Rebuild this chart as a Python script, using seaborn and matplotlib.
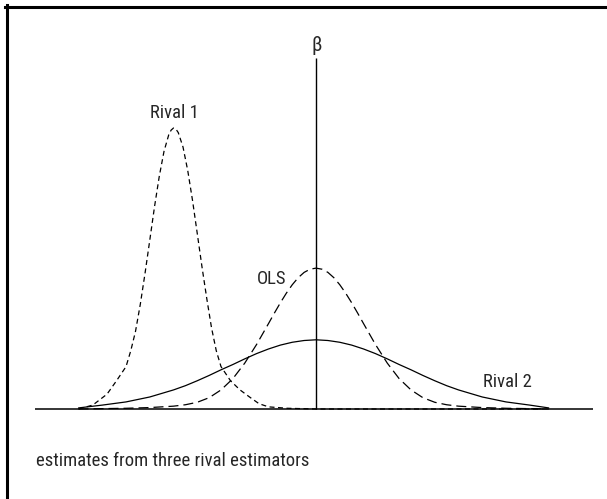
import numpy as np
import pandas as pd
import matplotlib
matplotlib.use("Agg")
import matplotlib.pyplot as plt
from matplotlib.lines import Line2D
from matplotlib import font_manager as fm
import seaborn as sns

# ---- data (x in units of OLS std. dev., y = density height) ----
rival1_x = [-5.0, -4.7, -4.4, -4.2, -4.0, -3.9, -3.8, -3.7, -3.6, -3.5, -3.4, -3.3, -3.2, -3.1,
            -3.05, -3.0, -2.95, -2.9, -2.8, -2.7, -2.6, -2.5, -2.4, -2.3, -2.2, -2.1, -2.0,
            -1.8, -1.6, -1.4, -1.2, -1.0, -0.6, 0.0, 1.0, 2.0, 3.0, 4.0, 4.9]
rival1_y = [0.0, 0.011, 0.042, 0.08, 0.12, 0.165, 0.22, 0.296, 0.384, 0.478, 0.573, 0.659, 0.730, 0.777,
            0.790, 0.796, 0.793, 0.783, 0.742, 0.675, 0.591, 0.497, 0.402, 0.313, 0.23, 0.165, 0.12,
            0.08, 0.054, 0.034, 0.015, 0.006, 0.002, 0.0, 0.0, 0.0, 0.0, 0.0, 0.0]

ols_x = [-5.0, -4.5, -4.0, -3.5, -3.0, -2.75, -2.5, -2.25, -2.0, -1.75, -1.5, -1.25, -1.0,
         -0.875, -0.75, -0.625, -0.5, -0.375, -0.25, -0.125, 0.0, 0.125, 0.25, 0.375, 0.5,
         0.625, 0.75, 0.875, 1.0, 1.25, 1.5, 1.75, 2.0, 2.25, 2.5,
         2.75, 3.0, 3.5, 4.0, 4.5, 4.9]
ols_y = [0.0, 0.001, 0.002, 0.004, 0.008, 0.012, 0.019, 0.032, 0.054, 0.086, 0.130, 0.183, 0.242,
         0.272, 0.301, 0.328, 0.352, 0.372, 0.387, 0.396, 0.399, 0.396, 0.387, 0.372, 0.352,
         0.328, 0.301, 0.272, 0.242, 0.183, 0.130, 0.086, 0.054, 0.032, 0.019,
         0.012, 0.008, 0.004, 0.002, 0.001, 0.0]

rival2_x = [-5.0, -4.5, -4.0, -3.5, -3.0, -2.75, -2.5, -2.25, -2.0, -1.75, -1.5, -1.25, -1.0,
            -0.75, -0.5, -0.25, 0.0, 0.25, 0.5, 0.75, 1.0, 1.25, 1.5, 1.75, 2.0, 2.25, 2.5,
            2.75, 3.0, 3.5, 4.0, 4.5, 4.9]
rival2_y = [0.003, 0.011, 0.020, 0.034, 0.054, 0.066, 0.080, 0.095, 0.111, 0.126, 0.142, 0.157, 0.170,
            0.181, 0.189, 0.194, 0.196, 0.194, 0.189, 0.181, 0.170, 0.157, 0.142, 0.126, 0.111, 0.095, 0.080,
            0.066, 0.054, 0.034, 0.020, 0.011, 0.003]

series_names = ["Rival 1", "OLS", "Rival 2"]
axis_x_range = [-5.92, 5.83]
beta_axis_top = 0.994
caption = "estimates from three rival estimators"

df = pd.concat([
    pd.DataFrame({"x": rival1_x, "y": rival1_y, "series": series_names[0]}),
    pd.DataFrame({"x": ols_x, "y": ols_y, "series": series_names[1]}),
    pd.DataFrame({"x": rival2_x, "y": rival2_y, "series": series_names[2]}),
], ignore_index=True)

sns.set_theme(style="white")

available = {f.name for f in fm.fontManager.ttflist}
fs = 12.3
family = ["Liberation Sans", "DejaVu Sans"]
for cand, size in [("Liberation Sans Narrow", 14), ("Arial Narrow", 14), ("Roboto Condensed", 13.4)]:
    if cand in available:
        family = [cand, "DejaVu Sans"]
        fs = size
        break
plt.rcParams["font.family"] = family
plt.rcParams["font.weight"] = "normal"

fig = plt.figure(figsize=(6.07, 4.99), dpi=100)
ax = fig.add_axes([0, 0, 1, 1])

lw = 0.9
sns.lineplot(data=df, x="x", y="y", style="series", hue="series",
             palette={n: "black" for n in series_names},
             dashes={"Rival 1": (4, 2.8), "OLS": (8, 4), "Rival 2": ""},
             estimator=None, sort=False, legend=False, linewidth=lw, ax=ax)

ax.hlines(0, axis_x_range[0], axis_x_range[1], color="black", linewidth=1.1)
ax.vlines(0, 0, beta_axis_top, color="black", linewidth=1.0)

ax.set_xlim(-6.653, 6.126)
ax.set_ylim(-0.255, 1.1586)
ax.axis("off")

ax.text(-2.99, 0.839, "Rival 1", ha="center", va="center", fontsize=fs)
ax.text(-0.93, 0.368, "OLS", ha="center", va="center", fontsize=fs)
ax.text(4.04, 0.0765, "Rival 2", ha="center", va="center", fontsize=fs)
ax.text(0.02, 1.031, "β", ha="center", va="center", fontsize=fs + 1)
fig.text(36 / 607, 1 - 461 / 499, caption, ha="left", va="center", fontsize=fs)

# frame (left and top edges)
fig.add_artist(Line2D([6.5 / 607, 6.5 / 607], [0, 1 - 5 / 499], transform=fig.transFigure,
                      color="black", linewidth=2.2, solid_capstyle="projecting"))
fig.add_artist(Line2D([5 / 607, 1], [1 - 6.5 / 499, 1 - 6.5 / 499], transform=fig.transFigure,
                      color="black", linewidth=2.2, solid_capstyle="projecting"))

fig.savefig("out.png", dpi=100)
